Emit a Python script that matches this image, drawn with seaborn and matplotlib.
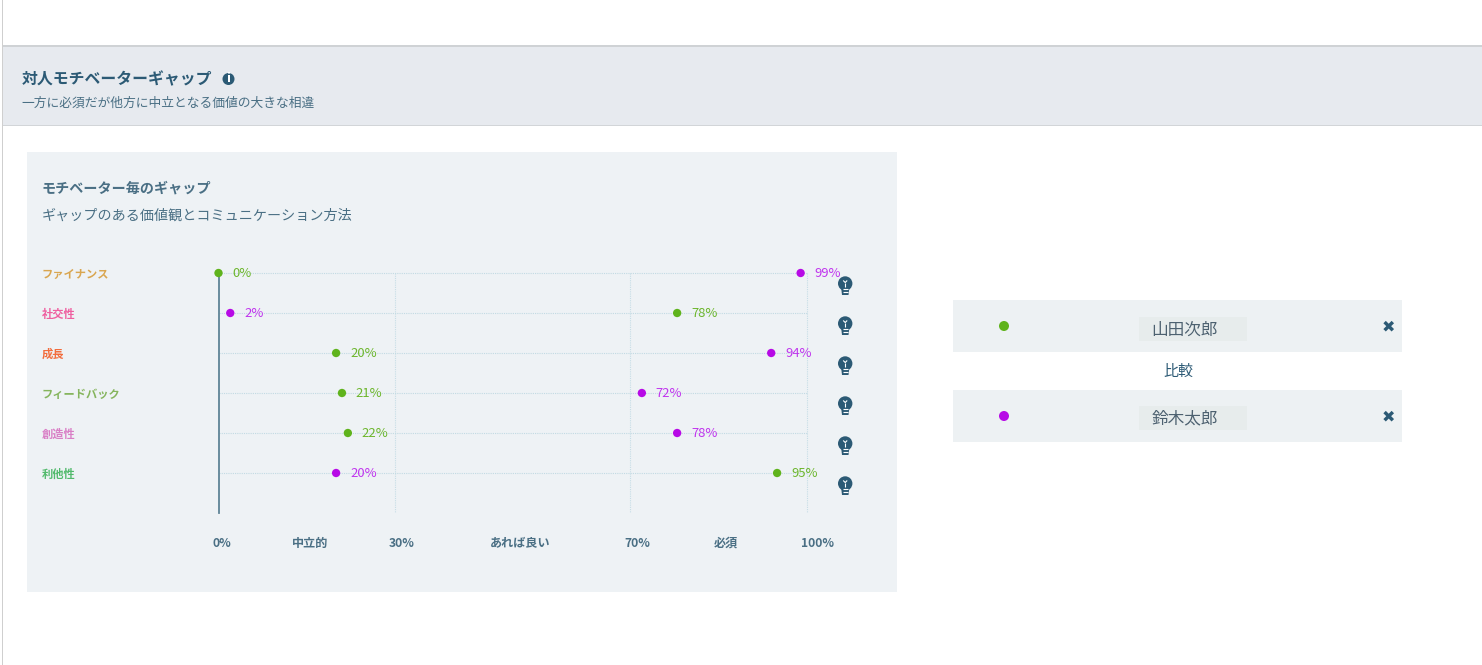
import matplotlib
matplotlib.use("Agg")
import matplotlib.pyplot as plt
from matplotlib.patches import Circle, Polygon, Rectangle
import pandas as pd
import seaborn as sns

# Data
categories = ["ファイナンス", "社交性", "成長", "フィードバック", "創造性", "利他性"]
category_colors = ["#d9a650", "#ef5fa0", "#f26c3c", "#86b55e", "#d97fc6", "#52ba6c"]
yamada = [0, 78, 20, 21, 22, 95]
suzuki = [99, 2, 94, 72, 78, 20]
names = ["山田次郎", "鈴木太郎"]
band_lines = [30, 70, 100]
scale_labels = ["0%", "中立的", "30%", "あれば良い", "70%", "必須", "100%"]

GREEN = "#5fb31c"
PURPLE = "#b70ae6"
GREEN_TEXT = "#6cb62c"
PURPLE_TEXT = "#c035ee"
NAVY = "#2c5a75"
SLATE = "#4a6f84"

sns.set_theme(style="white")
plt.rcParams["font.family"] = ["Noto Sans CJK JP", "DejaVu Sans"]

df = pd.DataFrame({
    "category": categories * 2,
    "value": yamada + suzuki,
    "person": [names[0]] * 6 + [names[1]] * 6,
})

fig = plt.figure(figsize=(14.82, 6.65), dpi=100, facecolor="white")

# Page chrome, drawn in pixel coordinates
bg = fig.add_axes([0, 0, 1, 1])
bg.set_xlim(0, 1482)
bg.set_ylim(665, 0)
bg.axis("off")


def box(x0, y0, x1, y1, color):
    bg.add_patch(Rectangle((x0, y0), x1 - x0, y1 - y0, fc=color, ec="none"))


box(2, 0, 3, 665, "#cfcfcf")
box(3, 46, 1482, 126, "#e7eaef")
box(3, 45, 1482, 47, "#cfd2d5")
box(3, 125, 1482, 126, "#d2d5d8")
box(27, 152, 897, 592, "#eef2f5")
box(953, 300, 1402, 352, "#edf1f3")
box(953, 390, 1402, 442, "#edf1f3")
box(1139, 317, 1247, 341, "#e7ecec")
box(1139, 406, 1247, 430, "#e7ecec")

bg.text(22, 79, "対人モチベーターギャップ", fontsize=11.42, fontweight="bold", color=NAVY, va="center")
bg.add_patch(Circle((228.5, 79), 6, fc=NAVY, ec="none"))
bg.text(228.5, 79, "i", fontsize=8.5, fontweight="bold", color="white", ha="center", va="center",
        family="DejaVu Sans")
bg.text(21.5, 103, "一方に必須だが他方に中立となる価値の大きな相違", fontsize=9.2, color=SLATE, va="center")
bg.text(41.5, 188.5, "モチベーター毎のギャップ", fontsize=10.15, fontweight="bold", color=SLATE, va="center")
bg.text(41.5, 216, "ギャップのある価値観とコミュニケーション方法", fontsize=10.14, color=SLATE, va="center")

# Lightbulbs beside each row
for i in range(len(categories)):
    yc = 283.5 + 40 * i
    bg.add_patch(Circle((845.2, yc), 7.2, fc=NAVY, ec="none"))
    bg.add_patch(Polygon([(841, yc + 3), (849.5, yc + 3), (848.5, yc + 11.5), (842, yc + 11.5)], fc=NAVY, ec="none"))
    for dy in [5.8, 8.2]:
        bg.plot([842.7, 847.7], [yc + dy, yc + dy], color="white", lw=0.8, solid_capstyle="butt")
    bg.plot([845.2, 845.2], [yc - 1, yc + 3], color="white", lw=0.8, solid_capstyle="butt")
    bg.plot([843.2, 845.2, 847.2], [yc - 3, yc - 1, yc - 3], color="white", lw=0.8, solid_capstyle="butt")

for x, label in zip([222, 310, 402, 520, 637, 726, 817], scale_labels):
    bg.text(x, 547, label, fontsize=8.7, fontweight="bold", color=SLATE, ha="center", va="baseline")

# Right hand legend panel
bg.text(1178, 372, "比較", fontsize=10.8, color=NAVY, ha="center", va="center")
for y_px, name, color in zip([330, 419], names, [GREEN, PURPLE]):
    bg.text(1184.5, y_px, name, fontsize=12, color="#4d6170", ha="center", va="center")
    bg.add_patch(Circle((1004, y_px - 4 if color == GREEN else y_px - 3), 5, fc=color, ec="none"))
    bg.text(1388, y_px - 3 if color == GREEN else y_px - 2, "✖", fontsize=11.5, color=NAVY, ha="center", va="center",
            family="DejaVu Sans")

# The chart itself
ax = fig.add_axes([218.5 / 1482, (665 - 513) / 665, 588 / 1482, 240 / 665])
ax.patch.set_alpha(0)
sns.scatterplot(data=df, x="value", y="category", hue="person", palette=[GREEN, PURPLE],
                s=36, linewidth=0, clip_on=False, zorder=5, legend=False, ax=ax)
ax.set_xlim(0, 100)
ax.set_ylim(6, 0)
ax.set_xlabel("")
ax.set_ylabel("")
ax.set_xticks([])
ax.set_yticks(range(len(categories)), labels=categories)
ax.tick_params(axis="y", length=0, pad=127.4)
for label, color in zip(ax.get_yticklabels(), category_colors):
    label.set_ha("left")
    label.set_color(color)
    label.set_fontsize(8.1)
    label.set_fontweight("bold")

for i in range(len(categories)):
    ax.hlines(i, 0, 100, color="#c2dae3", lw=0.8, linestyles=(0, (1, 1)), zorder=1, clip_on=False)
ax.vlines(band_lines, 0, 6, color="#c6dde6", lw=0.8, linestyles=(0, (1, 1)), zorder=1, clip_on=False)

sns.despine(ax=ax, top=True, right=True, bottom=True)
ax.spines["left"].set_color("#5f8496")
ax.spines["left"].set_linewidth(1.3)

# Percent labels next to the dots
for _, row in df.iterrows():
    color = GREEN_TEXT if row["person"] == names[0] else PURPLE_TEXT
    ax.annotate(f"{row['value']}%", (row["value"], row["category"]), xytext=(10, -0.7),
                textcoords="offset points", fontsize=9.4, color=color, va="center", zorder=6,
                annotation_clip=False)

fig.savefig("out.png", dpi=100)
